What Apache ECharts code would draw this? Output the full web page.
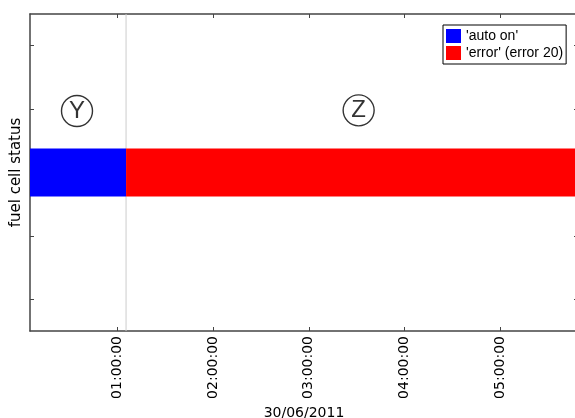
<!DOCTYPE html>
<html>
<head>
<meta charset="utf-8">
<script src="https://cdn.jsdelivr.net/npm/echarts@6/dist/echarts.min.js"></script>
<style>html,body{margin:0;padding:0;background:#fff}#c{width:575px;height:418px}</style>
</head>
<body>
<div id="c"></div>
<script>
// Time in minutes after midnight, 30/06/2011
const xMinMinutes = 5;
const xMaxMinutes = 349;
const hourTicks = [60, 120, 180, 240, 300];
const hourLabels = ['01:00:00', '02:00:00', '03:00:00', '04:00:00', '05:00:00'];
const dateLabel = '30/06/2011';
const yTicks = [1, 2, 3, 4, 5];
const yMinVal = 0.5, yMaxVal = 5.5;
const seriesNames = ["'auto on'", "'error' (error 20)"];
const seriesColors = ['#0000ff', '#ff0000'];
// [start minute, end minute, lower y, upper y]
const autoOnSpans = [[5, 65.3, 2.62, 3.38]];
const errorSpans = [[65.3, 360, 2.62, 3.38]];
const stateChangeMin = 65.3;
const phaseMarks = [[34.5, 3.97, 'Y'], [211.3, 3.98, 'Z']];

const chart = echarts.init(document.getElementById('c'));
const axisCol = '#444';

function renderSpan(params, api) {
  const p1 = api.coord([api.value(0), api.value(3)]);
  const p2 = api.coord([api.value(1), api.value(2)]);
  const cs = params.coordSys;
  const shape = echarts.graphic.clipRectByRect(
    {x: p1[0], y: p1[1], width: p2[0] - p1[0], height: p2[1] - p1[1]},
    {x: cs.x, y: cs.y, width: cs.width, height: cs.height});
  return shape && {type: 'rect', shape: shape, style: {fill: api.visual('color')}};
}
function fmtLabel(v) {
  const i = hourTicks.indexOf(v);
  return i >= 0 ? hourLabels[i] : '';
}

chart.setOption({
  animation: false,
  backgroundColor: '#fff',
  grid: {left: 30, top: 14, width: 548, height: 317, containLabel: false, outerBoundsMode: 'none'},
  legend: {
    data: seriesNames.map(n => ({name: n, icon: 'rect'})),
    orient: 'vertical', left: 443, top: 25,
    itemWidth: 15, itemHeight: 14, itemGap: 3,
    padding: [4, 3, 4, 3],
    borderColor: '#000', borderWidth: 1,
    textStyle: {fontFamily: 'Liberation Sans', fontSize: 14, color: '#000'}
  },
  xAxis: [{
    type: 'value', position: 'bottom', min: xMinMinutes, max: xMaxMinutes,
    axisLine: {show: true, lineStyle: {color: axisCol, width: 1.5}},
    axisTick: {show: true, inside: true, length: 4, customValues: hourTicks, lineStyle: {color: axisCol}},
    axisLabel: {show: true, rotate: 90, margin: 5, customValues: hourTicks, formatter: fmtLabel,
      fontFamily: 'DejaVu Sans', fontSize: 14, color: '#000'},
    splitLine: {show: false},
    name: dateLabel, nameLocation: 'middle', nameGap: 73,
    nameTextStyle: {fontFamily: 'DejaVu Sans', fontSize: 14, color: '#000'}
  }, {
    type: 'value', position: 'top', min: xMinMinutes, max: xMaxMinutes,
    axisLine: {show: true, lineStyle: {color: axisCol, width: 1.5}},
    axisTick: {show: true, inside: true, length: 4, customValues: hourTicks, lineStyle: {color: axisCol}},
    axisLabel: {show: false}, splitLine: {show: false}
  }],
  yAxis: [{
    type: 'value', position: 'left', min: yMinVal, max: yMaxVal,
    axisLine: {show: true, lineStyle: {color: axisCol, width: 1.5}},
    axisTick: {show: true, inside: true, length: 4, customValues: yTicks, lineStyle: {color: axisCol}},
    axisLabel: {show: false}, splitLine: {show: false},
    name: 'fuel cell status', nameLocation: 'middle', nameGap: 6,
    nameTextStyle: {fontFamily: 'DejaVu Sans', fontSize: 15, color: '#000'}
  }, {
    type: 'value', position: 'right', min: yMinVal, max: yMaxVal,
    axisLine: {show: true, lineStyle: {color: axisCol, width: 1.5}},
    axisTick: {show: true, inside: true, length: 4, customValues: yTicks, lineStyle: {color: axisCol}},
    axisLabel: {show: false}, splitLine: {show: false}
  }],
  series: [{
    type: 'line', silent: true, symbol: 'none', z: 1,
    data: [[stateChangeMin, yMinVal], [stateChangeMin, yMaxVal]],
    lineStyle: {color: '#cccccc', width: 1}
  }, {
    name: seriesNames[0], type: 'custom', renderItem: renderSpan, z: 2,
    itemStyle: {color: seriesColors[0]}, color: seriesColors[0],
    encode: {x: [0, 1], y: [2, 3]}, data: autoOnSpans
  }, {
    name: seriesNames[1], type: 'custom', renderItem: renderSpan, z: 2,
    itemStyle: {color: seriesColors[1]}, color: seriesColors[1],
    encode: {x: [0, 1], y: [2, 3]}, data: errorSpans
  }, {
    type: 'scatter', silent: true, symbol: 'circle', symbolSize: 31, z: 3,
    itemStyle: {color: 'rgba(0,0,0,0)', borderColor: '#000', borderWidth: 1.4},
    label: {show: true, position: 'inside', formatter: p => p.value[2],
      fontFamily: 'Liberation Sans', fontSize: 24, color: '#000'},
    data: phaseMarks
  }]
});
</script>
</body>
</html>
